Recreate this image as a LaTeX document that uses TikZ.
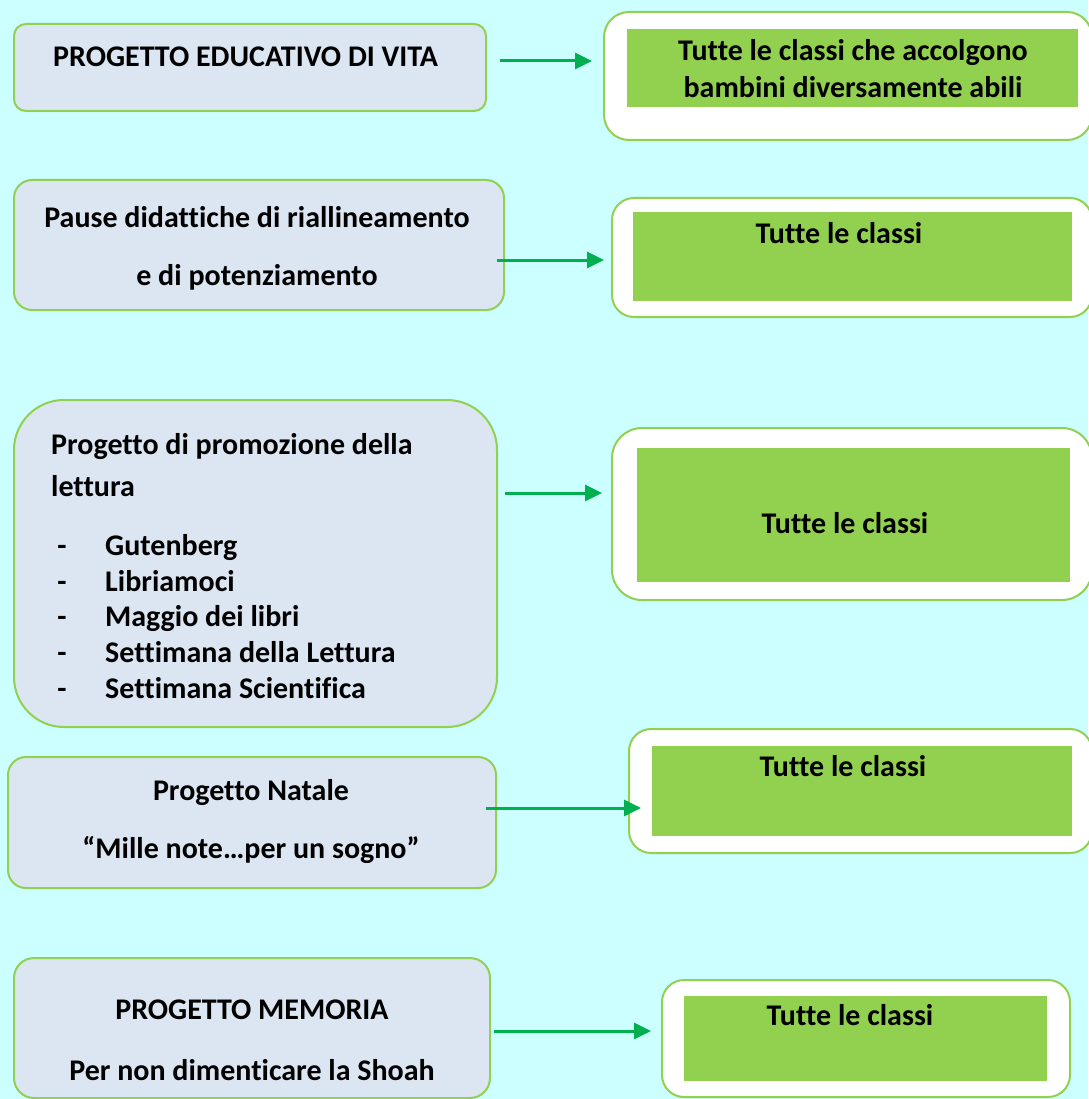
\documentclass[tikz,border=0pt]{standalone}
\usepackage{fontspec}
\setmainfont{Carlito}[Ligatures={NoCommon,NoContextual}]
\usetikzlibrary{arrows.meta}
\definecolor{sfondo}{RGB}{204,255,255}
\definecolor{azzurro}{RGB}{220,230,242}
\definecolor{verde}{RGB}{146,208,80}
\definecolor{freccia}{RGB}{0,176,80}
\tikzset{
	progetto/.style={draw=verde, line width=2pt, fill=azzurro, inner sep=0pt},
	cornice/.style={draw=verde, line width=2pt, fill=white, inner sep=0pt},
	classi/.style={fill=verde, inner sep=0pt},
	testo/.style={inner sep=0pt, align=center, font=\fontsize{30}{37}\selectfont\bfseries},
	freccetta/.style={draw=freccia, line width=3pt, -{Triangle[length=17pt,width=16pt]}}
}
\begin{document}
\begin{tikzpicture}[x=1pt,y=-1pt]
			\path[use as bounding box, fill=sfondo] (0,0) rectangle (1088,1099);
			% prima riga
			\node[progetto, minimum width=472pt, minimum height=87pt, rounded corners=12pt] (P1) at (250,67.5) {};
			\node[testo, anchor=west] (P1t) at (53,57) {PROGETTO EDUCATIVO DI VITA};
			\node[cornice, minimum width=488pt, minimum height=128pt, rounded corners=25pt] (C1) at (848,76) {};
			\node[classi, minimum width=451pt, minimum height=78pt] (V1) at (852.5,68) {};
			\node[testo] (V1t) at (853,68.5) {Tutte le classi che accolgono\\bambini diversamente abili};
			\coordinate (A1) at (500,61);
			\coordinate (B1) at (592,61);
			\draw[freccetta] (A1) -- (B1);
			% seconda riga
			\node[progetto, minimum width=490pt, minimum height=130pt, rounded corners=18pt] (P2) at (259,245) {};
			\node[testo] (P2t) at (257,248) {Pause didattiche di riallineamento\\[21pt]e di potenziamento};
			\node[cornice, minimum width=480pt, minimum height=119pt, rounded corners=22pt] (C2) at (852,257.5) {};
			\node[classi, minimum width=439pt, minimum height=89pt] (V2) at (852.5,256.5) {};
			\node[testo] (V2t) at (839,233) {Tutte le classi};
			\coordinate (A2) at (497,260);
			\coordinate (B2) at (604,260);
			\draw[freccetta] (A2) -- (B2);
			% terza riga
			\node[progetto, minimum width=483pt, minimum height=327pt, rounded corners=50pt] (P3) at (255.5,563.5) {};
			\node[testo, anchor=west] (P3a) at (51,447) {Progetto di promozione della};
			\node[testo, anchor=west] (P3b) at (51,486) {lettura};
			\foreach \voce [count=\i] in {Gutenberg, Libriamoci, Maggio dei libri, Settimana della Lettura, Settimana Scientifica} {
				\node[testo, anchor=base] (D\i) at (62,519.5+35.75*\i) {-};
				\node[testo, anchor=base west] (L\i) at (105,519.5+35.75*\i) {\voce};
			}
			\node[cornice, minimum width=480pt, minimum height=172pt, rounded corners=30pt] (C3) at (852,514) {};
			\node[classi, minimum width=433pt, minimum height=134pt] (V3) at (853.5,515) {};
			\node[testo] (V3t) at (845,523) {Tutte le classi};
			\coordinate (A3) at (505,493);
			\coordinate (B3) at (602,493);
			\draw[freccetta] (A3) -- (B3);
			% quarta riga
			\node[progetto, minimum width=488pt, minimum height=131pt, rounded corners=18pt] (P4) at (252,822.5) {};
			\node[testo] (P4t) at (251,822) {Progetto Natale\\[21pt]“Mille note…per un sogno”};
			\node[cornice, minimum width=463pt, minimum height=124pt, rounded corners=22pt] (C4) at (860.5,791) {};
			\node[classi, minimum width=420pt, minimum height=90pt] (V4) at (862,791) {};
			\node[testo] (V4t) at (843,766) {Tutte le classi};
			\coordinate (A4) at (486,808);
			\coordinate (B4) at (641,808);
			\draw[freccetta] (A4) -- (B4);
			% quinta riga
			\node[progetto, minimum width=476pt, minimum height=140pt, rounded corners=20pt] (P5) at (252,1028) {};
			\node[testo] (P5t) at (252,1040.5) {PROGETTO MEMORIA\\[24pt]Per non dimenticare la Shoah};
			\node[cornice, minimum width=408pt, minimum height=117pt, rounded corners=22pt] (C5) at (866,1038.5) {};
			\node[classi, minimum width=363pt, minimum height=85pt] (V5) at (865.5,1038.5) {};
			\node[testo] (V5t) at (850,1015) {Tutte le classi};
			\coordinate (A5) at (494,1031);
			\coordinate (B5) at (651,1031);
			\draw[freccetta] (A5) -- (B5);
		\end{tikzpicture}
\end{document}
